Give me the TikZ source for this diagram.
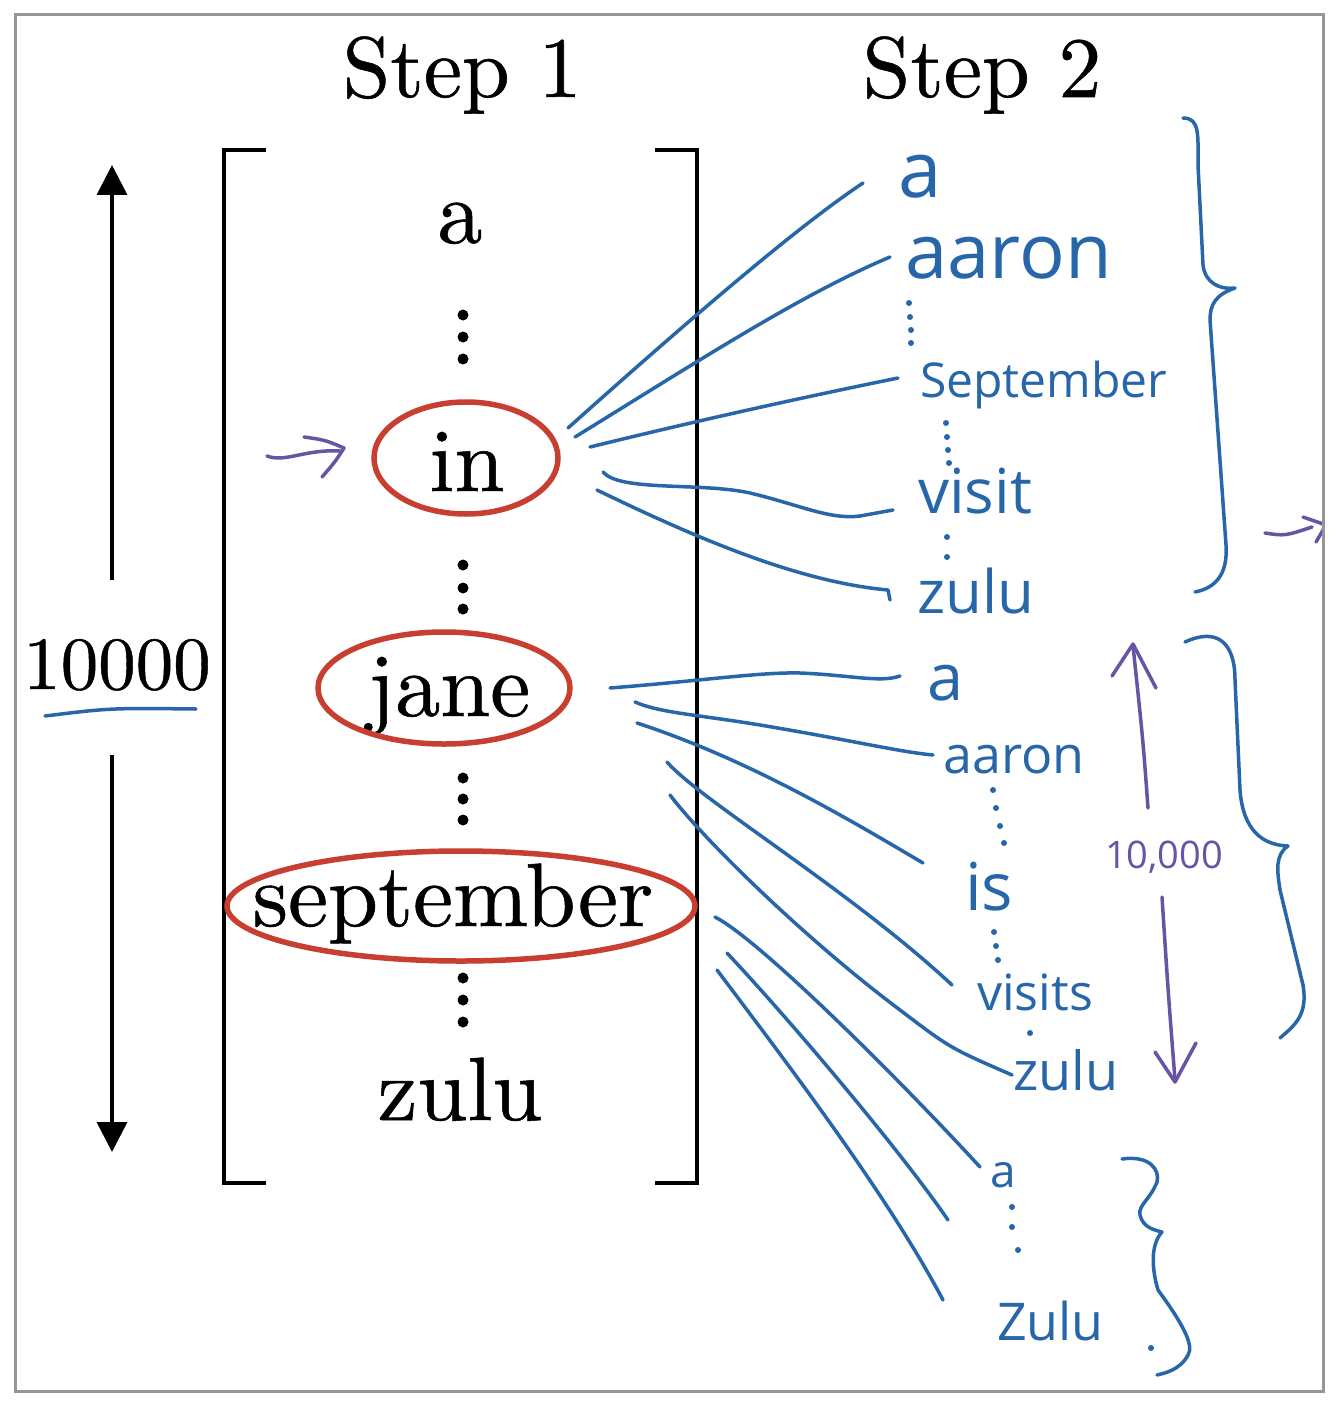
\documentclass[tikz,border=0pt]{standalone}
\usepackage{fontspec}
\setmainfont{lmroman10-regular}[Extension=.otf,FakeBold=0.6]
\newfontfamily\hand{Open Sans}
\usetikzlibrary{shapes.geometric,arrows.meta}
\definecolor{inkblue}{RGB}{40,102,170}
\definecolor{inkred}{RGB}{200,62,48}
\definecolor{inkpurple}{RGB}{104,84,165}
\definecolor{framegray}{RGB}{150,150,150}
\tikzset{
  ink/.style={draw=inkblue,line width=3.5pt,line cap=round,line join=round},
  pink/.style={draw=inkpurple,line width=3.5pt,line cap=round,line join=round},
  word/.style={anchor=base,inner sep=0pt,font=\fontsize{90}{90}\selectfont},
  title/.style={anchor=base,inner sep=0pt,font=\fontsize{86}{86}\selectfont},
  hw/.style={anchor=base west,inner sep=0pt,text=inkblue},
  ring/.style={ellipse,draw=inkred,line width=5.5pt,inner sep=0pt},
  bracketline/.style={line width=3.5pt},
  bigarrow/.style={line width=3.5pt,-{Triangle[length=30pt,width=30pt]}},
}
\newcommand{\hs}[1]{\hand\fontsize{#1}{#1}\selectfont}
\begin{document}
\begin{tikzpicture}[x=1pt,y=-1pt]
\useasboundingbox (0,0) rectangle (1338,1407);
\fill[white] (0,0) rectangle (1338,1407);
\draw[framegray,line width=3pt] (15,15) rectangle (1323,1391);

% titles
\node[title] (step1) at (462,97) {Step 1};
\node[title] (step2) at (982,97) {Step 2};

% bracket
\draw[bracketline] (266,150) -- (224,150) -- (224,1183) -- (266,1183);
\draw[bracketline] (655,150) -- (697,150) -- (697,1183) -- (655,1183);

% words
\node[word] (wa) at (460,243) {a};
\node[word] (win) at (467,491) {in};
\node[word] (wjane) at (449,716) {jane};
\node[word] (wsep) at (453,926) {september};
\node[word] (wzulu) at (460,1120) {zulu};

% dots
\foreach \y in {315,337,359,565,588,609,778,799,820,978,1000,1022}
  \fill (463,\y) circle (5.5);

% ellipses
\node[ring,minimum width=184,minimum height=112] (ein) at (466,458) {};
\node[ring,minimum width=252,minimum height=112] (ejane) at (444,688) {};
\node[ring,minimum width=468,minimum height=110] (esep) at (461,906) {};

% size arrow
\node[anchor=base,inner sep=0pt,font=\fontsize{75}{75}\selectfont] (n10000) at (117,689) {10000};
\coordinate (uptop) at (112,165);
\coordinate (upbot) at (112,580);
\coordinate (dntop) at (112,755);
\coordinate (dnbot) at (112,1152);
\draw[bigarrow] (upbot) -- (uptop);
\draw[bigarrow] (dntop) -- (dnbot);
\coordinate (ul1) at (45,716);
\coordinate (ul2) at (196,709);
\draw[ink] (ul1) .. controls (110,708) .. (ul2);

% purple pointer at "in"
\coordinate (pa1) at (267,456);
\coordinate (pa2) at (340,451);
\draw[pink] (pa1) .. controls (285,463) and (305,449) .. (pa2);
\draw[pink] (304,437) .. controls (325,440) .. (344,448) .. controls (335,462) .. (322,477);

% group 1 words
\node[hw,font=\hs{78}] (g1a) at (898,197) {a};
\node[hw,font=\hs{76}] (g1aaron) at (905,278) {aaron};
\node[hw,font=\hs{48}] (g1sep) at (920,397) {September};
\node[hw,font=\hs{62}] (g1visit) at (918,513) {visit};
\node[hw,font=\hs{60}] (g1zulu) at (917,613) {zulu};
\foreach \p in {(909,303),(910,317),(911,330),(911,343),(946,423),(947,437),(948,450),(949,463),(947,537),(947,557)}
  \fill[inkblue] \p circle (3);

% group 2 words
\node[hw,font=\hs{65}] (g2a) at (927,700) {a};
\node[hw,font=\hs{52}] (g2aaron) at (943,773) {aaron};
\node[hw,font=\hs{66}] (g2is) at (965,910) {is};
\node[hw,font=\hs{50}] (g2visits) at (977,1010) {visits};
\node[hw,font=\hs{54}] (g2zulu) at (1013,1090) {zulu};
\foreach \p in {(993,790),(996,808),(1000,826),(1004,843),(994,932),(996,946),(998,960),(1030,1033)}
  \fill[inkblue] \p circle (3);

% group 3 words
\node[hw,font=\hs{46}] (g3a) at (990,1187) {a};
\node[hw,font=\hs{52}] (g3zulu) at (997,1340) {Zulu};
\foreach \p in {(1012,1207),(1012,1227),(1018,1250),(1151,1348)}
  \fill[inkblue] \p circle (3);

% connector ends
\coordinate (s1) at (568,428);  \coordinate (e1) at (863,183);
\coordinate (s2) at (575,437);  \coordinate (e2) at (890,257);
\coordinate (s3) at (590,447);  \coordinate (e3) at (898,378);
\coordinate (s4) at (603,472);  \coordinate (e4) at (893,510);
\coordinate (s5) at (597,490);  \coordinate (e5) at (890,600);
\coordinate (s6) at (610,688);  \coordinate (e6) at (900,676);
\coordinate (s7) at (635,702);  \coordinate (e7) at (933,755);
\coordinate (s8) at (637,723);  \coordinate (e8) at (923,863);
\coordinate (s9) at (667,762);  \coordinate (e9) at (952,985);
\coordinate (s10) at (670,795); \coordinate (e10) at (1012,1075);
\coordinate (s11) at (715,917); \coordinate (e11) at (980,1167);
\coordinate (s12) at (727,953); \coordinate (e12) at (948,1220);
\coordinate (s13) at (717,970); \coordinate (e13) at (943,1300);

\draw[ink] (s1) .. controls (700,310) and (800,225) .. (e1);
\draw[ink] (s2) .. controls (700,360) and (800,295) .. (e2);
\draw[ink] (s3) .. controls (700,420) and (800,398) .. (e3);
\draw[ink] (s4) .. controls (620,492) and (700,482) .. (750,493) .. controls (800,505) and (830,520) .. (860,516) -- (e4);
\draw[ink] (s5) .. controls (700,540) and (800,582) .. (888,590) -- (e5);
\draw[ink] (s6) .. controls (700,681) and (760,672) .. (800,673) .. controls (850,675) and (880,683) .. (e6);
\draw[ink] (s7) .. controls (660,713) and (700,715) .. (760,725) .. controls (850,740) and (900,752) .. (e7);
\draw[ink] (s8) .. controls (750,760) and (850,820) .. (e8);
\draw[ink] (s9) .. controls (700,800) and (850,890) .. (e9);
\draw[ink] (s10) .. controls (700,835) and (800,935) .. (900,1010) .. controls (950,1048) .. (e10);
\draw[ink] (s11) .. controls (760,940) and (900,1080) .. (e11);
\draw[ink] (s12) .. controls (790,1020) and (900,1150) .. (e12);
\draw[ink] (s13) .. controls (800,1080) and (890,1200) .. (e13);

% braces
\draw[ink] (1183,118) .. controls (1200,118) and (1198,135) .. (1198,165) -- (1203,265)
  .. controls (1205,283) and (1220,290) .. (1235,288)
  .. controls (1215,295) and (1210,305) .. (1210,320) -- (1226,545)
  .. controls (1228,575) and (1215,588) .. (1195,592);
\draw[ink] (1185,642) .. controls (1215,628) and (1235,640) .. (1235,680) -- (1240,790)
  .. controls (1243,830) and (1262,845) .. (1288,846)
  .. controls (1275,855) and (1277,870) .. (1280,890) -- (1303,985)
  .. controls (1308,1015) and (1295,1025) .. (1280,1038);
\draw[ink] (1122,1159) .. controls (1150,1155) and (1160,1170) .. (1157,1182)
  .. controls (1150,1200) and (1138,1205) .. (1140,1215)
  .. controls (1143,1228) and (1155,1230) .. (1162,1232)
  .. controls (1150,1245) and (1152,1270) .. (1158,1290)
  .. controls (1180,1320) and (1195,1345) .. (1188,1355)
  .. controls (1180,1370) and (1165,1373) .. (1157,1375);

% purple count arrows
\node[anchor=base west,inner sep=0pt,text=inkpurple,font=\hs{38}] (n10k) at (1105,868) {10,000};
\coordinate (pu1) at (1148,808); \coordinate (pu2) at (1133,646);
\coordinate (pd1) at (1162,897); \coordinate (pd2) at (1175,1080);
\draw[pink] (pu1) .. controls (1143,740) .. (pu2);
\draw[pink] (1112,676) -- (1133,644) -- (1156,688);
\draw[pink] (pd1) .. controls (1168,990) .. (pd2);
\draw[pink] (1155,1052) -- (1175,1082) -- (1196,1043);

% partial purple arrow at right edge
\begin{scope}
\clip (15,15) rectangle (1322,1391);
\coordinate (pr1) at (1265,533); \coordinate (pr2) at (1312,527);
\draw[pink] (pr1) .. controls (1285,536) .. (pr2);
\draw[pink] (1303,517) -- (1326,525) -- (1316,542);
\end{scope}
\end{tikzpicture}
\end{document}
